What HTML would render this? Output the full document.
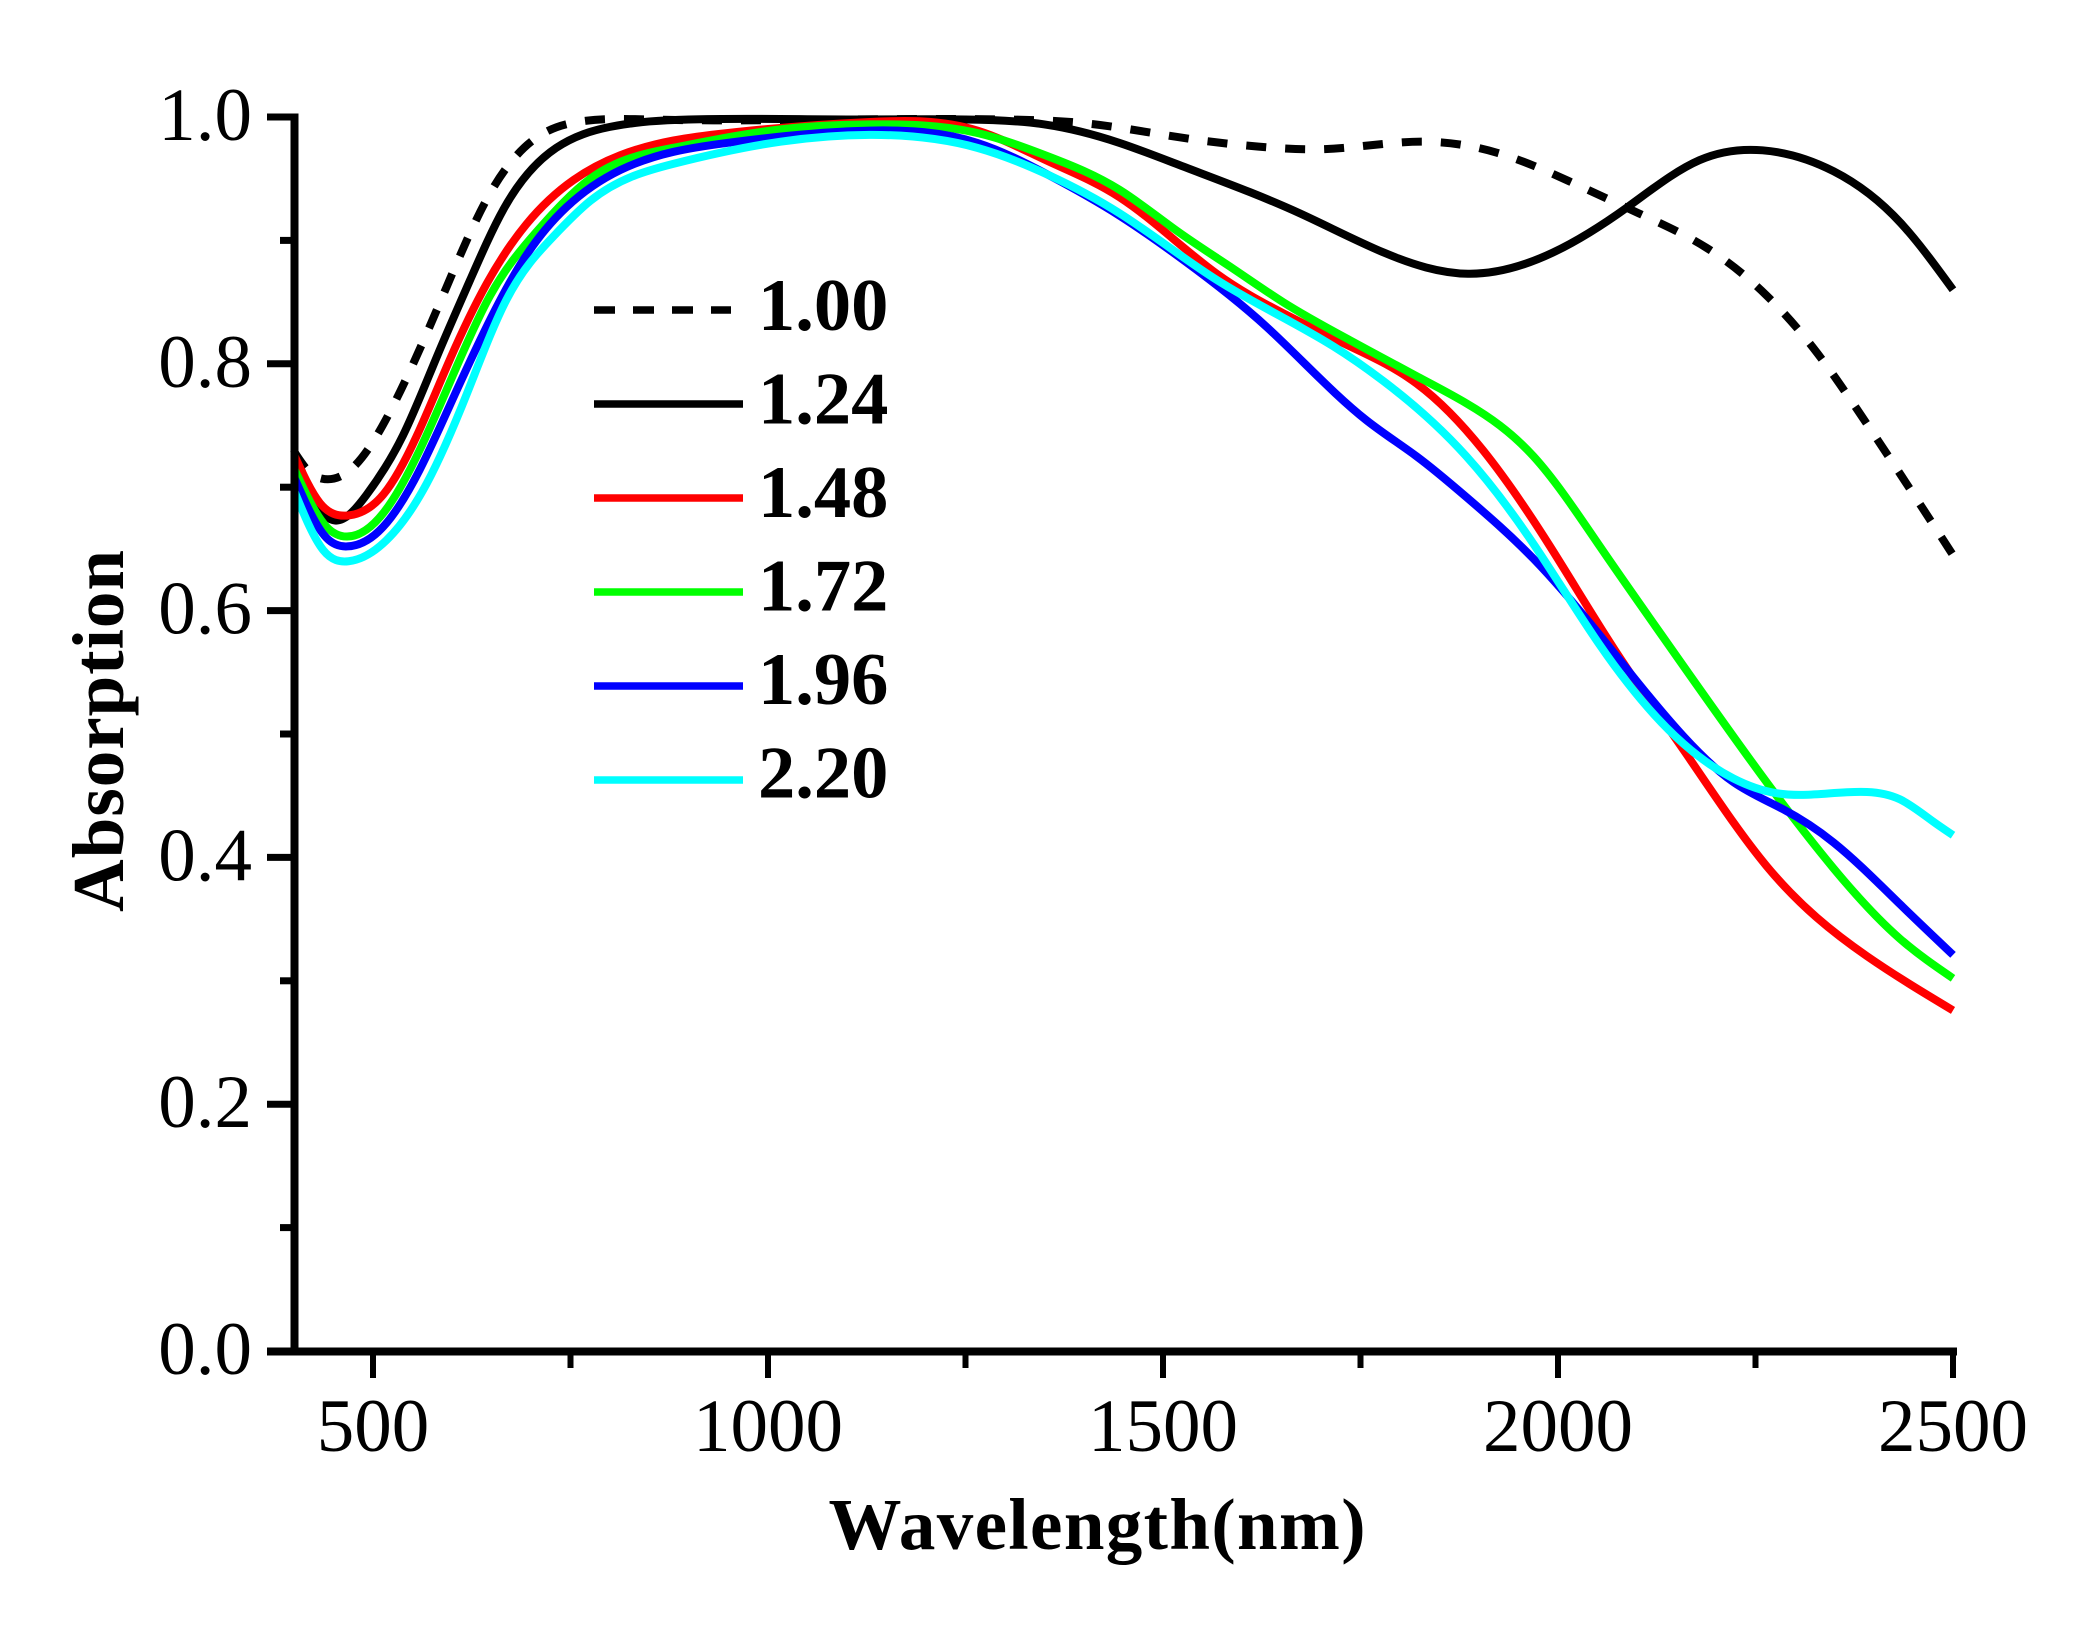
<!DOCTYPE html>
<html lang="en">
<head>
<meta charset="utf-8">
<title>Absorption vs Wavelength</title>
<style>
html,body{margin:0;padding:0;background:#fff;}
svg{display:block;}
text{font-family:"Liberation Serif",serif;fill:#000;}
</style>
</head>
<body>
<svg id="chart" xmlns="http://www.w3.org/2000/svg" width="2079" height="1637" viewBox="0 0 2079 1637">
<rect width="2079" height="1637" fill="#fff"/>
<g id="series"></g>
<g id="axes"></g>
<g id="legend"></g>
<text x="1097" y="1549" font-size="73" font-weight="bold" text-anchor="middle" textLength="537" lengthAdjust="spacing">Wavelength(nm)</text>
<text transform="translate(123,731) rotate(-90)" font-size="73" font-weight="bold" text-anchor="middle" textLength="362" lengthAdjust="spacing">Absorption</text>
</svg>
<script>
const seriesLabels = ["1.00","1.24","1.48","1.72","1.96","2.20"];
const seriesColors = ["#000000","#000000","#ff0000","#00ff00","#0000ff","#00ffff"];

const wl100 = [400,420,435,473,527,587,648,711,759,850,1100,1300,1400,1537,1621,1705,1830,1923,2014,2102,2188,2263,2329,2385,2439,2500];
const abs100 = [.729,.712,.707,.715,.768,.853,.938,.985,.996,.998,.998,.998,.995,.982,.976,.974,.980,.971,.948,.922,.894,.856,.808,.757,.705,.645];

const wl124 = [400,425,452,492,538,581,623,665,732,800,900,1100,1250,1350,1445,1521,1673,1780,1886,1993,2088,2179,2259,2349,2434,2500];
const abs124 = [.73,.69,.673,.694,.742,.806,.868,.925,.975,.992,.998,.998,.998,.994,.979,.961,.922,.890,.873,.890,.927,.965,.973,.956,.914,.860];

const wl148 = [401,433,467,513,555,597,644,694,754,813,948,1129,1265,1355,1445,1568,1652,1737,1821,1905,1990,2074,2159,2264,2391,2500];
const abs148 = [.725,.687,.677,.694,.741,.803,.865,.913,.949,.969,.987,.996,.989,.964,.935,.873,.841,.814,.784,.730,.652,.566,.487,.393,.320,.276];

const wl172 = [401,441,467,513,559,602,648,707,775,880,1016,1129,1265,1355,1445,1517,1589,1652,1737,1821,1884,1969,2053,2138,2264,2349,2433,2500];
const abs172 = [.714,.668,.660,.679,.730,.792,.855,.907,.950,.975,.990,.994,.987,.968,.941,.908,.877,.850,.819,.790,.768,.725,.652,.574,.461,.391,.334,.302];

const wl196 = [401,441,467,513,559,602,640,690,745,813,948,1129,1265,1355,1445,1526,1631,1758,1821,1884,1969,2053,2159,2222,2285,2349,2433,2500];
const abs196 = [.707,.659,.652,.668,.714,.773,.825,.884,.927,.957,.979,.989,.979,.953,.920,.884,.830,.754,.725,.692,.642,.580,.498,.461,.439,.412,.362,.321];

const wl220 = [401,437,469,517,568,619,669,728,775,880,1016,1129,1265,1355,1445,1568,1716,1779,1884,1969,2053,2159,2222,2277,2391,2433,2475,2500];
const abs220 = [.696,.649,.640,.657,.703,.776,.852,.903,.932,.962,.980,.9855,.975,.953,.922,.868,.814,.786,.725,.654,.572,.492,.464,.452,.453,.447,.429,.418];

const xMajorTicks = [500,1000,1500,2000,2500];
const xMinorTicks = [750,1250,1750,2250];
const yMajorTicks = [0,0.2,0.4,0.6,0.8,1.0];
const yMinorTicks = [0.1,0.3,0.5,0.7,0.9];

const seriesX = [wl100,wl124,wl148,wl172,wl196,wl220];
const seriesY = [abs100,abs124,abs148,abs172,abs196,abs220];

const NS = "http://www.w3.org/2000/svg";
function xScale(v){ return 294 + (v - 400) * 0.79; }
function yScale(v){ return 1351 - v * 1234; }
function mk(tag, attrs, parent){
  const el = document.createElementNS(NS, tag);
  for (const k in attrs) el.setAttribute(k, attrs[k]);
  parent.appendChild(el);
  return el;
}
function splinePath(xs, ys){
  const n = xs.length;
  const h = [], a = new Array(n).fill(0), b = new Array(n).fill(1), c = new Array(n).fill(0), r = new Array(n).fill(0);
  for (let i = 0; i < n - 1; i++) h.push(xs[i+1]-xs[i]);
  for (let i = 1; i < n - 1; i++){
    a[i] = h[i-1];
    b[i] = 2*(h[i-1]+h[i]);
    c[i] = h[i];
    r[i] = 6*((ys[i+1]-ys[i])/h[i] - (ys[i]-ys[i-1])/h[i-1]);
  }
  for (let i = 1; i < n; i++){
    const w = a[i]/b[i-1];
    b[i] -= w*c[i-1];
    r[i] -= w*r[i-1];
  }
  const s = new Array(n).fill(0);
  s[n-1] = r[n-1]/b[n-1];
  for (let i = n - 2; i >= 0; i--) s[i] = (r[i]-c[i]*s[i+1])/b[i];
  let p = "M" + xs[0].toFixed(2) + " " + ys[0].toFixed(2);
  for (let i = 0; i < n - 1; i++){
    const slope0 = (ys[i+1]-ys[i])/h[i] - h[i]*(2*s[i]+s[i+1])/6;
    const slope1 = (ys[i+1]-ys[i])/h[i] + h[i]*(s[i]+2*s[i+1])/6;
    const t = h[i]/3;
    p += "C" + (xs[i]+t).toFixed(2) + " " + (ys[i]+slope0*t).toFixed(2) + " " +
         (xs[i+1]-t).toFixed(2) + " " + (ys[i+1]-slope1*t).toFixed(2) + " " +
         xs[i+1].toFixed(2) + " " + ys[i+1].toFixed(2);
  }
  return p;
}

const seriesGroup = document.getElementById("series");
seriesLabels.forEach(function(label, i){
  const px = seriesX[i].map(xScale);
  const py = seriesY[i].map(yScale);
  const path = mk("path", {d: splinePath(px, py), fill: "none", stroke: seriesColors[i], "stroke-width": 8, "stroke-linejoin": "round"}, seriesGroup);
  if (i === 0) path.setAttribute("stroke-dasharray", "20 19");
  
  
});

const axes = document.getElementById("axes");
const yAxisLine = mk("line", {x1: 294.5, y1: 113.5, x2: 294.5, y2: 1355, stroke: "#000", "stroke-width": 8}, axes);


const xAxisLine = mk("line", {x1: 267, y1: 1351.5, x2: 1957, y2: 1351.5, stroke: "#000", "stroke-width": 8}, axes);



yMajorTicks.forEach(function(v){
  const y = yScale(v);
  const t = mk("line", {x1: 267, y1: y, x2: 295, y2: y, stroke: "#000", "stroke-width": 7}, axes);
  
  
  const l = mk("text", {x: 252, y: y + 23, "font-size": 75, "text-anchor": "end"}, axes);
  l.textContent = v.toFixed(1);
  
  
});
yMinorTicks.forEach(function(v){
  const y = yScale(v);
  const t = mk("line", {x1: 280, y1: y, x2: 295, y2: y, stroke: "#000", "stroke-width": 7}, axes);
  
  
});
xMajorTicks.forEach(function(v){
  const x = xScale(v);
  const t = mk("line", {x1: x, y1: 1351, x2: x, y2: 1378, stroke: "#000", "stroke-width": 6}, axes);
  
  
  const l = mk("text", {x: x, y: 1451, "font-size": 75, "text-anchor": "middle"}, axes);
  l.textContent = String(v);
  
  
});
xMinorTicks.forEach(function(v){
  const x = xScale(v);
  const t = mk("line", {x1: x, y1: 1351, x2: x, y2: 1368, stroke: "#000", "stroke-width": 6}, axes);
  
  
});

const legend = document.getElementById("legend");
seriesLabels.forEach(function(label, i){
  const y = 310 + i * 94;
  const x2 = i === 0 ? 731 : 743;
  const swatch = mk("line", {x1: 594, y1: y, x2: x2, y2: y, stroke: seriesColors[i], "stroke-width": 7.5}, legend);
  if (i === 0) swatch.setAttribute("stroke-dasharray", "21 18");
  
  
  const t = mk("text", {x: 758, y: 330 + i * 93.5, "font-size": 74.5, "font-weight": "bold"}, legend);
  t.textContent = label;
  
  
});
</script>
</body>
</html>
